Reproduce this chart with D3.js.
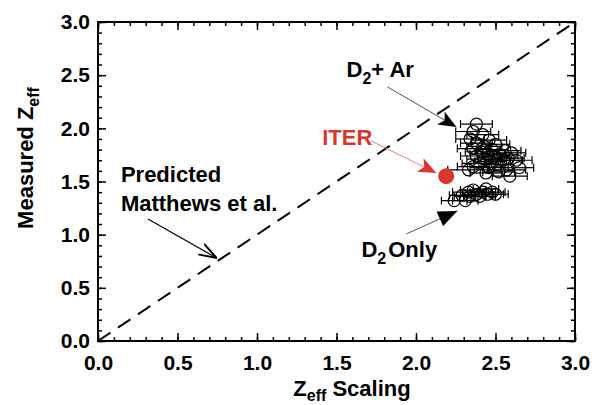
<!DOCTYPE html>
<html lang="en">
<head>
  <meta charset="utf-8">
  <title>Measured Zeff vs Zeff scaling</title>
  <script type="text/javascript" src="https://d3js.org/d3.v7.min.js"></script>
</head>
<style>
body {
  margin: 0;
  font-family: "Liberation Sans", Arial, sans-serif;
  background: white;
}
text {
  font-weight: bold;
}
</style>
<body>
  <script type="text/javascript">
  var w = 602;
  var h = 405;

  // D2 + Ar shots: [Zeff scaling, measured Zeff, horizontal error]
  var d2ArData = [
    [2.38, 2.04, 0.10], [2.36, 1.97, 0.11], [2.42, 1.94, 0.10], [2.34, 1.90, 0.09],
    [2.46, 1.89, 0.11], [2.38, 1.86, 0.10], [2.50, 1.85, 0.09], [2.43, 1.83, 0.11],
    [2.36, 1.81, 0.10], [2.48, 1.80, 0.10], [2.56, 1.79, 0.10], [2.41, 1.78, 0.10],
    [2.60, 1.77, 0.09], [2.45, 1.76, 0.11], [2.53, 1.75, 0.11], [2.38, 1.74, 0.10],
    [2.49, 1.73, 0.10], [2.58, 1.72, 0.10], [2.43, 1.71, 0.11], [2.55, 1.70, 0.12],
    [2.47, 1.69, 0.10], [2.63, 1.70, 0.10], [2.40, 1.67, 0.11], [2.51, 1.66, 0.10],
    [2.36, 1.64, 0.10], [2.46, 1.63, 0.12], [2.57, 1.61, 0.12], [2.65, 1.63, 0.09],
    [2.33, 1.61, 0.13], [2.52, 1.59, 0.10], [2.59, 1.55, 0.11], [2.44, 1.58, 0.10]
  ];

  // D2 only shots
  var d2OnlyData = [
    [2.24, 1.32, 0.08], [2.31, 1.32, 0.08], [2.34, 1.36, 0.10], [2.38, 1.38, 0.10],
    [2.42, 1.40, 0.08], [2.36, 1.42, 0.08], [2.45, 1.38, 0.10], [2.40, 1.36, 0.10],
    [2.48, 1.40, 0.08], [2.33, 1.40, 0.10], [2.44, 1.43, 0.08], [2.50, 1.38, 0.08],
    [2.29, 1.37, 0.08]
  ];

  var iterPoint = [2.19, 1.55];

  var majorTicks = [0, 0.5, 1.0, 1.5, 2.0, 2.5, 3.0];
  var minorTicks = d3.range(0, 31).map(function(i) { return i / 10; });

  var x = d3.scaleLinear().domain([0, 3]).range([98, 575]);
  var y = d3.scaleLinear().domain([0, 3]).range([341, 22]);

  var svg = d3.select("body")
      .append("svg")
      .attr("width", w)
      .attr("height", h);

  var defs = svg.append("defs");
  // stealth style arrowhead
  function stealth(id, color, size) {
    defs.append("marker")
        .attr("id", id)
        .attr("viewBox", "0 0 12 10")
        .attr("refX", 12).attr("refY", 5)
        .attr("markerWidth", size).attr("markerHeight", size * 10 / 12)
        .attr("markerUnits", "userSpaceOnUse")
        .attr("orient", "auto")
        .append("path")
        .attr("d", "M0,0 L12,5 L0,10 L3,5 Z")
        .attr("fill", color);
  }
  stealth("arrBlack", "#000", 18);
  stealth("arrRed", "#d9362c", 18);
  defs.append("marker")
      .attr("id", "arrTri")
      .attr("viewBox", "0 0 12 10")
      .attr("refX", 12).attr("refY", 5)
      .attr("markerWidth", 20).attr("markerHeight", 16)
      .attr("markerUnits", "userSpaceOnUse")
      .attr("orient", "auto")
      .append("path")
      .attr("d", "M0,0 L12,5 L0,10 Z")
      .attr("fill", "#000");
  defs.append("marker")
      .attr("id", "arrOpen")
      .attr("viewBox", "0 0 12 10")
      .attr("refX", 12).attr("refY", 5)
      .attr("markerWidth", 18).attr("markerHeight", 15)
      .attr("markerUnits", "userSpaceOnUse")
      .attr("orient", "auto")
      .append("path")
      .attr("d", "M0,1 L12,5 L0,9")
      .attr("fill", "none")
      .attr("stroke", "#000")
      .attr("stroke-width", 1.3);

  // axes: ticks inward on all four sides
  function tickAxis(gen, scale, vals, size, labels) {
    return gen(scale).tickValues(vals).tickSize(size).tickFormat(labels ? d3.format(".1f") : "");
  }
  var axes = [
    {gen: d3.axisBottom, s: x, t: "translate(0,341)", lab: true, pad: 14},
    {gen: d3.axisTop, s: x, t: "translate(0,22)", lab: false, pad: 0},
    {gen: d3.axisLeft, s: y, t: "translate(98,0)", lab: true, pad: 8},
    {gen: d3.axisRight, s: y, t: "translate(575,0)", lab: false, pad: 0}
  ];
  axes.forEach(function(a) {
    var gMinor = svg.append("g").attr("transform", a.t)
        .call(tickAxis(a.gen, a.s, minorTicks, -4, false));
    gMinor.select(".domain").remove();
    gMinor.selectAll("line").attr("stroke-width", 1.5);
    var gMajor = svg.append("g").attr("transform", a.t)
        .call(tickAxis(a.gen, a.s, majorTicks, -8, a.lab).tickPadding(a.pad));
    gMajor.select(".domain").remove();
    gMajor.selectAll("line").attr("stroke-width", 1.5);
    gMajor.selectAll("text")
        .style("font-family", "'Liberation Sans', Arial, sans-serif")
        .style("font-size", "21px")
        .style("font-weight", "bold")
        .attr("fill", "#000");
  });

  svg.append("rect")
      .attr("x", x(0)).attr("y", y(3))
      .attr("width", x(3) - x(0)).attr("height", y(0) - y(3))
      .attr("fill", "none")
      .attr("stroke", "#000")
      .attr("stroke-width", 2);

  // predicted line y = x
  svg.append("line")
      .attr("x1", x(0)).attr("y1", y(0))
      .attr("x2", x(3)).attr("y2", y(3))
      .attr("stroke", "#000")
      .attr("stroke-width", 2)
      .attr("stroke-dasharray", "15,9");

  // data with horizontal error bars
  function drawSeries(data) {
    var g = svg.append("g");
    var bars = g.selectAll(".bar").data(data).enter().append("g");
    bars.append("line")
        .attr("x1", function(d) { return x(d[0] - d[2]); })
        .attr("x2", function(d) { return x(d[0] + d[2]); })
        .attr("y1", function(d) { return y(d[1]); })
        .attr("y2", function(d) { return y(d[1]); })
        .attr("stroke", "#000").attr("stroke-width", 1.2);
    [-1, 1].forEach(function(sgn) {
      bars.append("line")
          .attr("x1", function(d) { return x(d[0] + sgn * d[2]); })
          .attr("x2", function(d) { return x(d[0] + sgn * d[2]); })
          .attr("y1", function(d) { return y(d[1]) - 4; })
          .attr("y2", function(d) { return y(d[1]) + 4; })
          .attr("stroke", "#000").attr("stroke-width", 1.2);
    });
    g.selectAll("circle").data(data).enter().append("circle")
        .attr("cx", function(d) { return x(d[0]); })
        .attr("cy", function(d) { return y(d[1]); })
        .attr("r", 6)
        .attr("fill", "none")
        .attr("stroke", "#000")
        .attr("stroke-width", 1.2);
  }
  drawSeries(d2ArData);
  drawSeries(d2OnlyData);

  svg.append("circle")
      .attr("cx", x(iterPoint[0]))
      .attr("cy", y(iterPoint[1]))
      .attr("r", 8)
      .attr("fill", "#d9362c");

  // annotation arrows (data coordinates)
  function arrow(x1, y1, x2, y2, color, width, marker) {
    svg.append("line")
        .attr("x1", x(x1)).attr("y1", y(y1))
        .attr("x2", x(x2)).attr("y2", y(y2))
        .attr("stroke", color)
        .attr("stroke-width", width)
        .attr("marker-end", "url(#" + marker + ")");
  }
  arrow(1.82, 2.39, 2.254, 2.013, "#555", 1, "arrBlack");
  arrow(1.72, 1.88, 2.128, 1.58, "#e8837c", 1, "arrRed");
  arrow(0.314, 1.148, 0.747, 0.78, "#000", 1.2, "arrOpen");
  arrow(1.94, 1.007, 2.26, 1.223, "#555", 1, "arrTri");

  function label(xv, yv, color, size) {
    return svg.append("text")
        .attr("x", x(xv)).attr("y", y(yv))
        .attr("fill", color)
        .style("font-size", (size || 22) + "px");
  }
  var t1 = label(1.563, 2.48, "#000");
  t1.append("tspan").text("D");
  t1.append("tspan").attr("dy", 7).style("font-size", "16px").text("2");
  t1.append("tspan").attr("dy", -7).text("+ Ar");

  label(1.41, 1.84, "#d9362c").text("ITER");

  label(0.144, 1.50, "#000").text("Predicted");
  label(0.144, 1.22, "#000").text("Matthews et al.");

  var t2 = label(1.657, 0.79, "#000");
  t2.append("tspan").text("D");
  t2.append("tspan").attr("dy", 7).style("font-size", "16px").text("2");
  t2.append("tspan").attr("dy", -7).attr("dx", 2).text("Only");

  // axis titles
  var xt = svg.append("text")
      .attr("x", 352).attr("y", 396)
      .attr("text-anchor", "middle")
      .style("font-size", "22px");
  xt.append("tspan").text("Z");
  xt.append("tspan").attr("dy", 5).style("font-size", "16px").text("eff");
  xt.append("tspan").attr("dy", -5).text(" Scaling");

  var yt = svg.append("text")
      .attr("transform", "translate(33,158) rotate(-90)")
      .attr("text-anchor", "middle")
      .style("font-size", "22px");
  yt.append("tspan").text("Measured Z");
  yt.append("tspan").attr("dy", 6).style("font-size", "16px").text("eff");
  </script>
</body>
</html>
